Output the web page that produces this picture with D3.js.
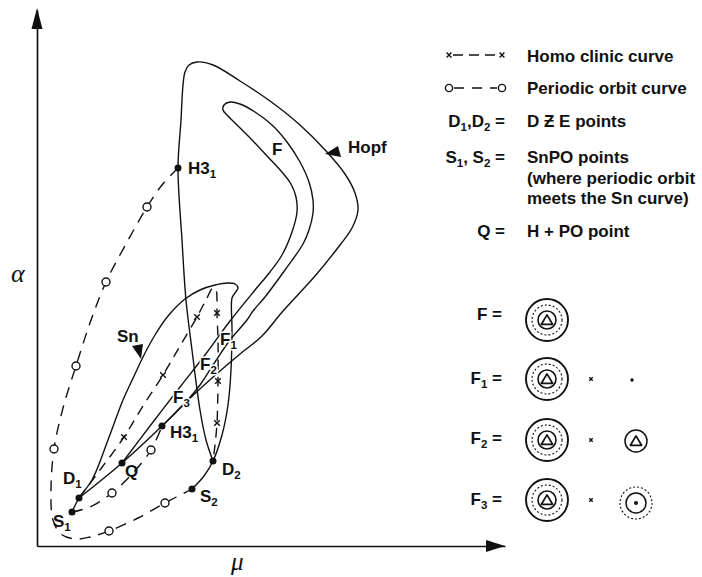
<!DOCTYPE html>
<html><head><meta charset="utf-8">
<script src="https://cdn.jsdelivr.net/npm/d3@7"></script>
<style>
body{margin:0;background:#fff}
svg{display:block}
text{font-family:"Liberation Sans",Arial,Helvetica,sans-serif;font-weight:bold;fill:#111}
</style></head><body>
<svg id="c" width="702" height="577"></svg>
<script>
// Parameter plane (mu, alpha), arbitrary units
const muDomain = [0, 46.8];
const alphaDomain = [0, 53.6];

// Hopf curve: D1 -> Q -> H3_1 -> outer bend -> top -> H3_1 -> D2
const hopfCurve = [[4.2,4.8],[8.5,8.3],[12.5,12.0],[14.8,14.3],[17.5,16.8],[20.3,19.2],[22.5,21.0],[24.6,23.5],[27.8,27.0],[30.3,30.1],[31.5,31.8],[32.1,33.6],[31.8,35.3],[30.8,37.2],[29.0,39.4],[26.3,42.1],[23.3,44.5],[20.3,46.5],[17.6,48.1],[16.0,48.4],[15.2,48.1],[14.8,47.4],[14.6,46.1],[14.4,42.6],[14.1,37.8],[14.5,30.6],[14.9,24.6],[15.5,19.6],[16.3,13.6],[16.9,10.6],[17.6,8.5]];

// Boundary of region F: from Q up to the tip and back down to H3_1
const fCurve = [[8.5,8.3],[11.3,12.0],[14.3,15.9],[16.8,19.1],[19.3,22.5],[21.8,25.6],[23.3,27.4],[24.5,29.1],[25.5,31.4],[26.0,33.4],[25.9,34.9],[25.4,36.2],[24.4,37.5],[23.1,38.9],[21.6,40.5],[20.1,42.0],[19.1,43.0],[18.6,43.6],[18.7,44.1],[19.3,44.4],[20.3,44.2],[21.8,43.4],[23.5,42.1],[25.0,40.4],[26.3,38.4],[27.2,36.4],[27.6,34.6],[27.6,33.3],[27.2,31.6],[26.6,30.2],[24.8,27.6],[22.8,24.9],[21.6,23.5],[21.0,22.6],[19.3,20.6],[17.8,18.4],[16.3,16.1],[14.8,14.3],[12.5,12.0]];

// Saddle-node (Sn) curve: S1 -> D1 -> top -> D2 -> S2
const snCurve = [[3.5,3.4],[4.2,4.8],[5.5,6.6],[7.1,10.6],[8.6,14.6],[9.8,17.2],[10.6,18.9],[11.8,21.1],[13.1,23.0],[14.8,24.7],[16.3,25.6],[17.8,26.1],[19.1,26.3],[19.8,26.2],[20.1,25.8],[19.8,25.3],[19.5,24.8],[19.5,21.6],[19.4,17.6],[19.1,14.1],[18.5,11.1],[17.6,8.5],[16.7,7.0],[15.5,5.7]];

// Homoclinic curve D1 -> D2
const homoclinicCurve = [[4.2,4.8],[6.3,7.6],[8.7,10.9],[10.6,14.0],[12.6,17.1],[14.3,20.0],[16.0,22.9],[16.9,24.6],[17.6,25.8],[17.9,25.6],[18.0,24.6],[18.0,23.3],[18.1,20.6],[18.1,16.5],[18.0,12.3],[17.8,10.1],[17.6,8.5]];
const homoclinicMarks = [[8.7,10.9],[12.6,17.1],[16.0,22.9],[18.0,23.3],[18.1,16.5],[18.0,12.3]];

// Periodic orbit curves
const periodicOuter = [[14.1,37.8],[12.5,36.1],[11.0,33.9],[8.9,30.2],[6.9,26.4],[5.3,22.3],[3.9,18.0],[2.6,13.8],[1.7,9.7],[1.4,5.6],[1.6,2.6],[2.4,1.2],[3.8,0.7],[5.3,0.9],[7.2,1.5],[10.1,2.8],[12.8,4.3],[15.5,5.7]];
const periodicInner = [[3.5,3.4],[5.3,3.9],[7.5,5.3],[9.5,7.2],[11.4,9.6],[12.5,12.0]];
const periodicMarks = [[11.0,33.9],[6.9,26.4],[3.9,18.0],[1.7,9.7],[7.2,1.5],[12.8,4.3],[7.5,5.3],[11.4,9.6]];

// Special points
const pointNames = ["S","D","Q","H3","H3","D","S"];
const pointSubs  = ["1","1","","1","1","2","2"];
const pointMu    = [3.5, 4.2, 8.5, 12.5, 14.1, 17.6, 15.5];
const pointAlpha = [3.4, 4.8, 8.3, 12.0, 37.8, 8.5, 5.7];

// Region / curve labels
const regionNames = ["F","F","F","F","Hopf","Sn"];
const regionSubs  = ["","1","2","3","",""];
const regionMu    = [23.5, 18.3, 16.3, 13.6, 31.1, 8.0];
const regionAlpha = [39.1, 20.1, 17.6, 14.3, 39.3, 20.4];

// Legend texts
const legendKeys = [["D","1",",D","2"," ="],["S","1",", S","2"," ="],["Q  ="]];
const legendTexts = ["Homo clinic curve","Periodic orbit curve","D Ƶ E points","SnPO points","(where periodic orbit","meets the Sn curve)","H + PO point"];
const phaseKeys = [["F  ="],["F","1"," ="],["F","2"," ="],["F","3"," ="]];

const svg = d3.select("#c");
const x = d3.scaleLinear().domain(muDomain).range([37, 505]);
const y = d3.scaleLinear().domain(alphaDomain).range([546, 10]);

// axes (no ticks) with arrowheads
svg.append("g").attr("transform", `translate(0,${y(0)})`)
  .call(d3.axisBottom(x).ticks(0).tickSizeOuter(0))
  .select(".domain").attr("stroke", "#111").attr("stroke-width", 1.7);
svg.append("g").attr("transform", `translate(${x(0)},0)`)
  .call(d3.axisLeft(y).ticks(0).tickSizeOuter(0))
  .select(".domain").attr("stroke", "#111").attr("stroke-width", 1.7);
const xe = x(muDomain[1]), ye = y(alphaDomain[1]);
svg.append("path").attr("d", `M${xe},${y(0)}L${xe-19},${y(0)-6}L${xe-19},${y(0)+6}Z`).attr("fill", "#111");
svg.append("path").attr("d", `M${x(0)},${ye-2}L${x(0)-5.5},${ye+19}L${x(0)+5.5},${ye+19}Z`).attr("fill", "#111");

svg.append("text").attr("x", 11).attr("y", 282)
  .style("font-family", "'Liberation Serif','DejaVu Serif',serif").style("font-style", "italic")
  .style("font-weight", "normal").style("font-size", "26px").text("α");
svg.append("text").attr("x", 231).attr("y", 570)
  .style("font-family", "'Liberation Serif','DejaVu Serif',serif").style("font-style", "italic")
  .style("font-weight", "normal").style("font-size", "25px").text("μ");

const line = d3.line().x(d => x(d[0])).y(d => y(d[1])).curve(d3.curveCatmullRom.alpha(0.5));

const plot = svg.append("g").attr("fill", "none").attr("stroke", "#111").attr("stroke-width", 1.4);
plot.append("path").attr("d", line(hopfCurve));
plot.append("path").attr("d", line(fCurve));
plot.append("path").attr("d", line(snCurve));
plot.append("path").attr("d", line(homoclinicCurve)).attr("stroke-dasharray", "10,7");
plot.append("path").attr("d", line(periodicOuter)).attr("stroke-dasharray", "11,8");
plot.append("path").attr("d", line(periodicInner)).attr("stroke-dasharray", "11,8");

function cross(g, cx, cy, s) {
  g.append("path").attr("d", `M${cx-s},${cy-s}L${cx+s},${cy+s}M${cx-s},${cy+s}L${cx+s},${cy-s}`)
    .attr("stroke", "#111").attr("stroke-width", 1.4).attr("fill", "none");
}
homoclinicMarks.forEach(d => cross(svg, x(d[0]), y(d[1]), 2.8));
svg.selectAll("circle.po").data(periodicMarks).join("circle").attr("class", "po")
  .attr("cx", d => x(d[0])).attr("cy", d => y(d[1])).attr("r", 4)
  .attr("fill", "#fff").attr("stroke", "#111").attr("stroke-width", 1.4);

// special points
const pts = pointMu.map((m, i) => ({name: pointNames[i], sub: pointSubs[i], mu: m, alpha: pointAlpha[i]}));
svg.selectAll("circle.pt").data(pts).join("circle").attr("class", "pt")
  .attr("cx", d => x(d.mu)).attr("cy", d => y(d.alpha)).attr("r", 3.5).attr("fill", "#111");

function label(g, tx, ty, parts, size, subSize, halo) {
  const t = g.append("text").attr("x", tx).attr("y", ty).style("font-size", size + "px");
  if (halo) t.attr("stroke", "#fff").attr("stroke-width", 3).attr("paint-order", "stroke");
  parts.forEach((p, i) => {
    if (i % 2 === 1) {
      if (p) t.append("tspan").attr("dy", 4).style("font-size", subSize + "px").text(p);
    } else {
      const s = t.append("tspan").text(p);
      if (i > 0 && parts[i-1]) s.attr("dy", -4);
    }
  });
  return t;
}
const ptOffsets = [[-19,15],[-16,-14],[3,14],[8,12],[10,6],[9,14],[8,13]];
pts.forEach((d, i) => label(svg, x(d.mu) + ptOffsets[i][0], y(d.alpha) + ptOffsets[i][1], [d.name, d.sub], 17, 11.5, false));

regionNames.forEach((n, i) => label(svg, x(regionMu[i]), y(regionAlpha[i]), [n, regionSubs[i]], 17, 11.5, true));

// pointer wedges for Hopf and Sn labels
svg.append("path").attr("d", `M${x(28.8)},${y(39.2)}L${x(30.1)},${y(40.0)}L${x(30.4)},${y(38.9)}Z`).attr("fill", "#111");
svg.append("path").attr("d", `M${x(10.4)},${y(18.7)}L${x(9.5)},${y(20.0)}L${x(10.6)},${y(20.2)}Z`).attr("fill", "#111");

// legend: curve styles and point classes
const lg = svg.append("g");
lg.append("line").attr("x1", 453).attr("x2", 498).attr("y1", 55).attr("y2", 55)
  .attr("stroke", "#111").attr("stroke-width", 1.4).attr("stroke-dasharray", "10,6");
cross(lg, 449, 55, 2.4); cross(lg, 502, 55, 2.4);
lg.append("line").attr("x1", 454).attr("x2", 497).attr("y1", 88).attr("y2", 88)
  .attr("stroke", "#111").attr("stroke-width", 1.4).attr("stroke-dasharray", "10,8");
[449, 502].forEach(cx => lg.append("circle").attr("cx", cx).attr("cy", 88).attr("r", 3.6)
  .attr("fill", "#fff").attr("stroke", "#111").attr("stroke-width", 1.4));

const textY = [62, 94, 127, 163, 184, 203.5, 237];
legendTexts.forEach((t, i) => lg.append("text").attr("x", 527).attr("y", textY[i]).style("font-size", "17px").text(t));
const keyY = [127, 163, 237];
legendKeys.forEach((k, i) => label(lg, 505, keyY[i], k, 17, 11.5, false).attr("text-anchor", "end"));

// legend: phase portraits of regions F, F1, F2, F3
const phaseY = [320, 379, 440, 500];
const keyBase = [320, 384, 444, 505];
phaseKeys.forEach((k, i) => label(lg, 502, keyBase[i], k, 17, 11.5, false).attr("text-anchor", "end"));

function tri(g, cx, cy, s) {
  g.append("path").attr("d", `M${cx},${cy-s*0.62}L${cx+s*0.62},${cy+s*0.42}L${cx-s*0.62},${cy+s*0.42}Z`)
    .attr("fill", "none").attr("stroke", "#111").attr("stroke-width", 1.7).attr("stroke-linejoin", "round");
}
function ring(g, cx, cy, r, dashed, w) {
  g.append("circle").attr("cx", cx).attr("cy", cy).attr("r", r).attr("fill", "none")
    .attr("stroke", "#111").attr("stroke-width", w || 1.3).attr("stroke-dasharray", dashed ? "2,2" : null);
}
phaseY.forEach((cy, i) => {
  const cx = 547;
  ring(lg, cx, cy, 21, false, 1.9);
  ring(lg, cx, cy, 15, true, 1.1);
  ring(lg, cx, cy, 9, false, 1.6);
  tri(lg, cx, cy + 0.5, 9);
  if (i > 0) cross(lg, 591, cy, 1.7);
});
lg.append("circle").attr("cx", 632).attr("cy", phaseY[1] + 1).attr("r", 1.7).attr("fill", "#111");
ring(lg, 636, phaseY[2] + 1, 11, false, 1.5);
tri(lg, 636, phaseY[2] + 1.5, 9);
ring(lg, 636, phaseY[3] + 3, 16, true, 1.1);
ring(lg, 636, phaseY[3] + 3, 10, false, 1.5);
lg.append("circle").attr("cx", 636).attr("cy", phaseY[3] + 3).attr("r", 2).attr("fill", "#111");
</script>
</body></html>
